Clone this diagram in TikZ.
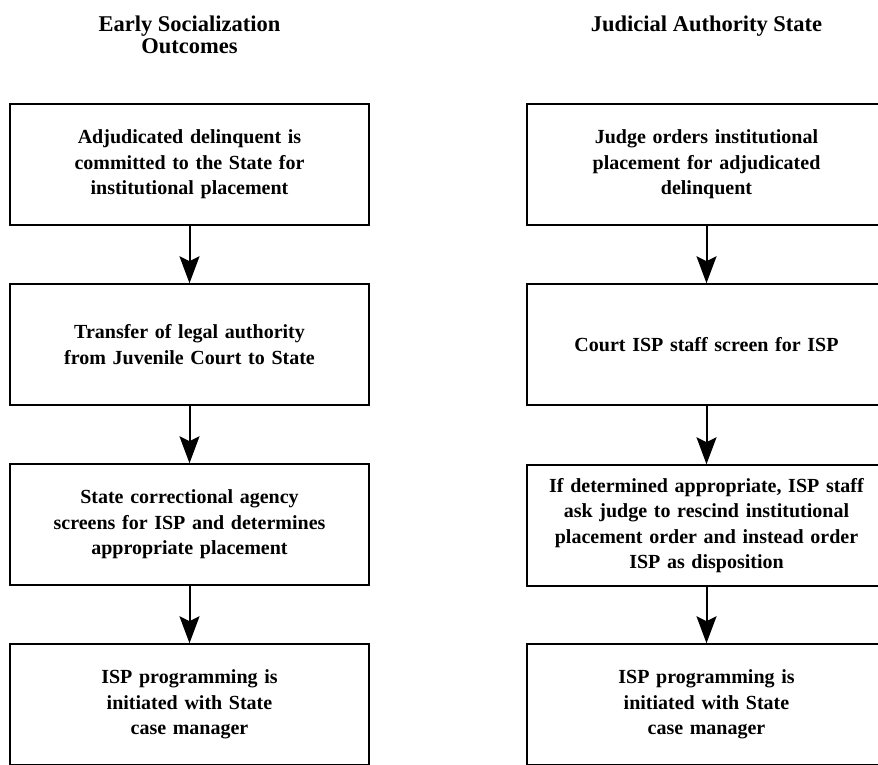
\documentclass[tikz,border=0pt]{standalone}
\usepackage{fontspec}
\setmainfont{Liberation Serif}
\usetikzlibrary{arrows.meta}

\begin{document}
\begin{tikzpicture}[x=1pt, y=-1pt,
    stagebox/.style={draw, line width=1.5pt, minimum width=359pt, minimum height=121pt,
      text width=345pt, align=center, font=\bfseries\fontsize{20}{25.5}\selectfont},
    colhead/.style={anchor=north, align=center, font=\bfseries\fontsize{22.5}{22.5}\selectfont},
    flow/.style={line width=2pt, -{Stealth[length=27pt, width=20pt, inset=5pt]}}]
  \useasboundingbox (0, 0) rectangle (878, 764);
  % Column headings:
  \node[colhead](HL) at (189.5, 12){Early Socialization\\Outcomes};
  \node[colhead](HR) at (706.5, 12){Judicial Authority State};
  % Left column:
  \node[stagebox](L1) at (189.5, 164.5){Adjudicated delinquent is\\committed to the State for\\institutional placement};
  \node[stagebox](L2) at (189.5, 344.5){Transfer of legal authority\\from Juvenile Court to State};
  \node[stagebox](L3) at (189.5, 524.5){State correctional agency\\screens for ISP and determines\\appropriate placement};
  \node[stagebox](L4) at (189.5, 704.5){ISP programming is\\initiated with State\\case manager};
  % Right column:
  \node[stagebox](R1) at (706.5, 164.5){Judge orders institutional\\placement for adjudicated\\delinquent};
  \node[stagebox](R2) at (706.5, 344.5){Court ISP staff screen for ISP};
  \node[stagebox](R3) at (706.5, 525.5){If determined appropriate, ISP staff\\ask judge to rescind institutional\\placement order and instead order\\ISP as disposition};
  \node[stagebox](R4) at (706.5, 704.5){ISP programming is\\initiated with State\\case manager};
  % Arrows:
  \draw[flow] (L1) -- (L2);
  \draw[flow] (L2) -- (L3);
  \draw[flow] (L3) -- (L4);
  \draw[flow] (R1) -- (R2);
  \draw[flow] (R2) -- (R3);
  \draw[flow] (R3) -- (R4);
\end{tikzpicture}
\end{document}
